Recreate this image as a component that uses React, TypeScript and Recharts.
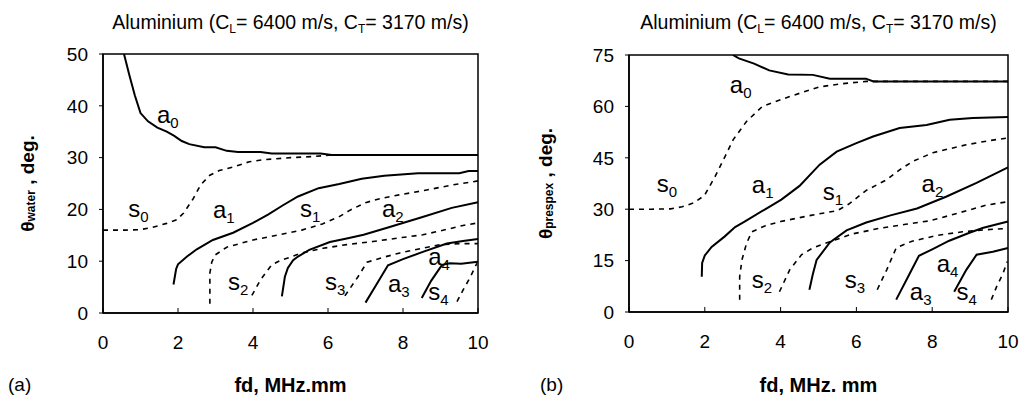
import { LineChart, Line, XAxis, YAxis, ReferenceArea, ReferenceDot, Label } from 'recharts';

type Pt = [number, number];

const FONT = '"Liberation Sans", Arial, Helvetica, sans-serif';

const fdTicks = [0, 2, 4, 6, 8, 10];
const waterTicks = [0, 10, 20, 30, 40, 50];
const prespexTicks = [0, 15, 30, 45, 60, 75];

// (a) angle in water, fd in MHz.mm
const a0Water: Pt[] = [[0.56, 50], [0.7, 46], [0.85, 42], [1.0, 38.6], [1.2, 37], [1.45, 35.8], [1.7, 35], [1.9, 34.2], [2.1, 33.2], [2.3, 32.6], [2.7, 32], [3.0, 32], [3.3, 31.3], [3.6, 31.1], [4.2, 31.1], [4.5, 30.8], [5.8, 30.8], [6.1, 30.5], [10, 30.5]];
const s0Water: Pt[] = [[0, 16], [0.6, 16], [1.0, 16.1], [1.3, 16.5], [1.7, 17.3], [1.97, 18], [2.15, 19.3], [2.4, 22], [2.6, 24.7], [2.85, 26.6], [3.1, 27.5], [3.47, 28.2], [3.9, 29.2], [4.3, 29.6], [5.0, 30], [5.6, 30.2], [6.1, 30.5], [10, 30.5]];
const a1Water: Pt[] = [[1.88, 5.5], [1.95, 8.5], [2.0, 9.4], [2.24, 10.9], [2.5, 12.3], [2.93, 14.1], [3.47, 15.5], [4.0, 17.4], [4.4, 19], [4.8, 20.8], [5.2, 22.5], [5.75, 24.1], [6.3, 24.9], [6.9, 25.9], [7.5, 26.5], [8.4, 27], [9.5, 27], [9.75, 27.4], [10, 27.4]];
const s1Water: Pt[] = [[2.85, 1.8], [2.85, 7.7], [2.9, 9.8], [2.99, 11.2], [3.3, 12.7], [4.0, 14.1], [4.7, 15.1], [5.3, 16], [5.85, 17.2], [6.3, 18.6], [6.6, 19.9], [7.0, 21.3], [7.4, 22.1], [7.9, 22.8], [8.6, 23.7], [9.3, 24.7], [9.85, 25.3], [10, 25.5]];
const a2Water: Pt[] = [[4.77, 3.2], [4.85, 7], [4.93, 8.7], [5.07, 10.2], [5.2, 10.9], [5.5, 12.2], [6.05, 13.7], [6.5, 14.4], [6.95, 15.1], [7.6, 16.5], [8.5, 18.5], [9.3, 20.3], [10, 21.4]];
const s2Water: Pt[] = [[3.97, 3.4], [4.2, 6.4], [4.5, 9.3], [4.75, 10.2], [5.0, 10.8], [5.3, 11.6], [5.87, 12.5], [6.5, 13.2], [7.2, 13.8], [7.9, 14.5], [8.53, 15.1], [9.2, 16.2], [9.6, 16.9], [10, 17.4]];
const s3Water: Pt[] = [[6.45, 3.3], [6.8, 7], [7.04, 9.8], [7.5, 10.8], [7.92, 11.6], [8.53, 12.5], [9.0, 13.2], [9.5, 13.4], [10, 13.4]];
const a3Water: Pt[] = [[7.0, 2.0], [7.3, 5.6], [7.6, 9.2], [8.0, 10.4], [8.53, 11.8], [9.17, 13.4], [9.6, 13.9], [10, 14.3]];
const a4Water: Pt[] = [[8.5, 2.9], [8.75, 6.2], [9.04, 9.3], [9.25, 9.6], [9.55, 9.5], [10, 9.9]];
const s4Water: Pt[] = [[9.44, 2.2], [9.6, 4.4], [9.8, 7], [9.97, 9.6]];

// (b) angle in prespex
const a0Prespex: Pt[] = [[2.74, 75], [2.9, 74], [3.3, 72.5], [3.7, 70.5], [4.2, 69.3], [4.85, 69.2], [5.3, 68.1], [6.25, 68.1], [6.45, 67.3], [10, 67.3]];
const s0Prespex: Pt[] = [[0, 30], [0.6, 30], [1.1, 30.1], [1.4, 30.7], [1.7, 31.8], [1.99, 34], [2.27, 39.5], [2.53, 45.3], [2.75, 50.3], [3.1, 55.6], [3.52, 60], [4.24, 62.9], [5.03, 65.7], [5.6, 66.6], [6.26, 67.3], [10, 67.3]];
const a1Prespex: Pt[] = [[1.92, 10.3], [1.93, 14.3], [2.0, 16.5], [2.18, 19], [2.52, 22], [2.8, 24.8], [3.05, 26.4], [3.58, 29.9], [4.02, 32.8], [4.5, 36.8], [5.03, 43], [5.48, 46.8], [6.0, 49.3], [6.44, 51.2], [7.14, 53.7], [7.85, 54.6], [8.46, 56.1], [9.07, 56.6], [10, 56.9]];
const s1Prespex: Pt[] = [[2.92, 3.6], [2.92, 10.3], [2.98, 15.2], [3.1, 20], [3.24, 23.4], [3.6, 25.2], [4.0, 26.4], [4.8, 28.2], [5.5, 29.6], [5.8, 31.5], [6.26, 35.5], [6.8, 38.6], [7.14, 41.5], [7.5, 44], [8.02, 46.5], [8.9, 48.8], [9.5, 50], [10, 50.8]];
const a2Prespex: Pt[] = [[4.76, 6.5], [4.85, 11], [4.95, 15.2], [5.3, 20.3], [5.74, 23.8], [6.26, 26.1], [6.9, 28.2], [7.6, 30.2], [8.38, 33.7], [9.17, 37.7], [10, 42.2]];
const s2Prespex: Pt[] = [[3.97, 5.9], [4.24, 12.3], [4.55, 16.7], [4.85, 18.7], [5.3, 20.5], [5.9, 22.8], [6.6, 24.4], [7.3, 25.6], [7.93, 26.6], [8.6, 28.6], [9.43, 31.2], [10, 32.2]];
const s3Prespex: Pt[] = [[6.55, 6.5], [6.8, 12.3], [7.05, 18.7], [7.45, 20.6], [8.15, 22.4], [8.8, 23.4], [9.4, 24], [10, 24.4]];
const a3Prespex: Pt[] = [[7.05, 3.6], [7.35, 10], [7.65, 16.4], [8.0, 18.3], [8.45, 20.8], [9.0, 23.2], [9.35, 24.6], [10, 26.4]];
const a4Prespex: Pt[] = [[8.58, 5.9], [8.9, 12.3], [9.17, 16.7], [9.6, 17.6], [10, 18.7]];
const s4Prespex: Pt[] = [[9.56, 3.6], [9.7, 7.4], [9.87, 11.3], [9.98, 14.7]];

// mode label anchors (left edge / baseline, in data units)
const waterLabels: [string, string, number, number][] = [
  ['a', '0', 1.44, 36.7], ['s', '0', 0.67, 18.5], ['a', '1', 2.93, 18.3], ['s', '1', 5.25, 18.5],
  ['a', '2', 7.44, 18.5], ['s', '2', 3.33, 4.4], ['s', '3', 5.92, 4.4], ['a', '3', 7.6, 4.1],
  ['a', '4', 8.67, 9.3], ['s', '4', 8.67, 2.5],
];
const prespexLabels: [string, string, number, number][] = [
  ['a', '0', 2.66, 64], ['s', '0', 0.73, 35.1], ['a', '1', 3.24, 34.8], ['s', '1', 5.11, 32.8],
  ['a', '2', 7.72, 35.1], ['s', '2', 3.24, 7.1], ['s', '3', 5.69, 7.1], ['a', '3', 7.41, 3.6],
  ['a', '4', 8.12, 11.8], ['s', '4', 8.64, 3.6],
];

const waterCurves: [Pt[], boolean][] = [
  [a0Water, false], [s0Water, true], [a1Water, false], [s1Water, true], [a2Water, false],
  [s2Water, true], [s3Water, true], [a3Water, false], [a4Water, false], [s4Water, true],
];
const prespexCurves: [Pt[], boolean][] = [
  [a0Prespex, false], [s0Prespex, true], [a1Prespex, false], [s1Prespex, true], [a2Prespex, false],
  [s2Prespex, true], [s3Prespex, true], [a3Prespex, false], [a4Prespex, false], [s4Prespex, true],
];

const toPts = (p: Pt[]) => p.map(([x, y]) => ({ x, y }));

function ModeLabel({ viewBox, m, n }: any) {
  return (
    <text x={viewBox.x} y={viewBox.y} fontFamily={FONT} fontSize={24} fill="#000">
      {m}
      <tspan fontSize={15} dy={5}>{n}</tspan>
    </text>
  );
}

function YTitle({ viewBox, sub, dx }: any) {
  const cx = viewBox.x + dx;
  const cy = viewBox.y + viewBox.height / 2;
  return (
    <text
      transform={`translate(${cx},${cy}) rotate(-90)`}
      textAnchor="middle"
      dominantBaseline="central"
      fontFamily={FONT}
      fontWeight="bold"
      fontSize={19}
      fill="#000"
    >
      θ
      <tspan fontSize={12} dy={4}>{sub}</tspan>
      <tspan dy={-4}> , deg.</tspan>
    </text>
  );
}

interface PanelProps {
  width: number;
  yAxisWidth: number;
  top: number;
  right: number;
  xHeight: number;
  yTicks: number[];
  curves: [Pt[], boolean][];
  labels: [string, string, number, number][];
  ySub: string;
  yTitleDx: number;
  xTitle: string;
}

function Panel(p: PanelProps) {
  const yMax = p.yTicks[p.yTicks.length - 1];
  return (
    <LineChart width={p.width} height={405} margin={{ top: p.top, right: p.right, bottom: 0, left: 0 }}>
      <XAxis
        type="number"
        dataKey="x"
        domain={[0, 10]}
        ticks={fdTicks}
        height={p.xHeight}
        tickSize={-5}
        tickMargin={28}
        tick={{ fill: '#000', fontSize: 19, fontFamily: FONT }}
        tickLine={{ stroke: '#000' }}
        axisLine={{ stroke: '#000', strokeWidth: 1.5 }}
      >
        <Label value={p.xTitle} position="insideBottom" offset={13} fontSize={20} fontWeight="bold" fill="#000" fontFamily={FONT} />
      </XAxis>
      <YAxis
        type="number"
        dataKey="y"
        domain={[0, yMax]}
        ticks={p.yTicks}
        width={p.yAxisWidth}
        tickSize={4}
        tickMargin={11}
        tick={{ fill: '#000', fontSize: 19, fontFamily: FONT }}
        tickLine={{ stroke: '#000' }}
        axisLine={{ stroke: '#000', strokeWidth: 1.5 }}
        allowDataOverflow
        label={<YTitle sub={p.ySub} dx={p.yTitleDx} />}
      />
      <ReferenceArea x1={0} x2={10} y1={0} y2={yMax} fill="none" fillOpacity={0} stroke="#000" strokeWidth={1.5} />
      {p.curves.map(([pts, dashed], i) => (
        <Line
          key={i}
          data={toPts(pts)}
          dataKey="y"
          type="linear"
          stroke="#000"
          strokeWidth={dashed ? 1.6 : 2}
          strokeDasharray={dashed ? '5 5' : undefined}
          dot={false}
          activeDot={false}
          isAnimationActive={false}
        />
      ))}
      {p.labels.map(([m, n, x, y], i) => (
        <ReferenceDot key={'l' + i} x={x} y={y} r={0} stroke="none" fill="none" label={<ModeLabel m={m} n={n} />} />
      ))}
    </LineChart>
  );
}

const subStyle: React.CSSProperties = { fontSize: 12, position: 'relative', top: 4 };

function Title({ left, width }: { left: number; width: number }) {
  return (
    <div
      style={{
        position: 'absolute', left, width, top: 10, textAlign: 'center',
        fontFamily: FONT, fontSize: 19.5, lineHeight: '24px', whiteSpace: 'nowrap', color: '#000',
      }}
    >
      Aluminium (C<span style={subStyle}>L</span>= 6400 m/s, C<span style={subStyle}>T</span>= 3170 m/s)
    </div>
  );
}

const tagStyle: React.CSSProperties = {
  position: 'absolute', top: 373, fontFamily: FONT, fontSize: 19, lineHeight: '24px', color: '#000',
};

export default function App() {
  return (
    <div style={{ position: 'absolute', left: 0, top: 0, width: 1026, height: 405, background: '#fff' }}>
      <div style={{ position: 'absolute', left: 0, top: 0 }}>
        <Panel width={500} yAxisWidth={103} top={54} right={22} xHeight={92}
          yTicks={waterTicks} curves={waterCurves} labels={waterLabels}
          ySub="water" yTitleDx={27} xTitle="fd, MHz.mm" />
      </div>
      <div style={{ position: 'absolute', left: 513, top: 0 }}>
        <Panel width={513} yAxisWidth={116} top={55} right={18} xHeight={93}
          yTicks={prespexTicks} curves={prespexCurves} labels={prespexLabels}
          ySub="prespex" yTitleDx={32} xTitle="fd, MHz. mm" />
      </div>
      <Title left={103} width={375} />
      <Title left={629} width={379} />
      <div style={{ ...tagStyle, left: 8 }}>(a)</div>
      <div style={{ ...tagStyle, left: 540 }}>(b)</div>
    </div>
  );
}
